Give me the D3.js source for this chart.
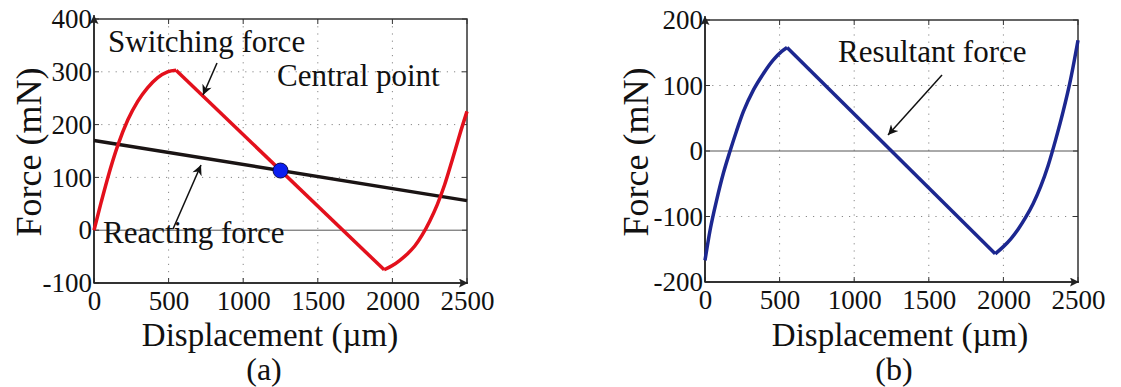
<!DOCTYPE html>
<html><head><meta charset="utf-8">
<script src="https://cdn.jsdelivr.net/npm/d3@7"></script>
<style>html,body{margin:0;padding:0;background:#fff}svg{display:block}text{font-family:"Liberation Serif","Times New Roman","DejaVu Serif",serif;fill:#111}</style>
</head><body>
<script>
// ---------- data ----------
const xTicks = [0, 500, 1000, 1500, 2000, 2500];
const yTicksA = [-100, 0, 100, 200, 300, 400];
const yTicksB = [-200, -100, 0, 100, 200];
const kinks = [550, 1945];

const switchDisp  = [0, 49, 93, 160, 227, 293, 360, 427, 493, 550, 1945, 2000, 2050, 2100, 2150, 2200, 2250, 2300, 2350, 2400, 2450, 2500];
const switchForce = [0, 54, 100, 161, 209, 244, 270, 289, 300, 303, -75, -67, -57, -45, -30, -9, 17, 48, 86, 132, 180, 225];

const reactDisp  = [0, 2500];
const reactForce = [170, 56];

const centralDisp = [1250];
const centralForce = [113];

const resDisp  = [0, 34, 78, 123, 168, 212, 257, 324, 391, 458, 514, 550, 1945, 2000, 2050, 2100, 2150, 2200, 2250, 2300, 2350, 2400, 2450, 2500];
const resForce = [-167, -121, -75, -34, 0, 31, 60, 93, 118, 139, 152, 158, -157, -146, -134, -119, -101, -80, -54, -22, 17, 60, 109, 169];

// ---------- setup ----------
const W = 1121, H = 387;
const svg = d3.select("body").append("svg").attr("width", W).attr("height", H)
  .attr("font-family", "Liberation Serif, Times New Roman, serif");
const defs = svg.append("defs");
defs.append("marker").attr("id","ah").attr("viewBox","0 0 10 10").attr("refX",10).attr("refY",5)
  .attr("markerWidth",12).attr("markerHeight",10).attr("markerUnits","userSpaceOnUse").attr("orient","auto")
  .append("path").attr("d","M0,0 L10,5 L0,10 L3,5 Z").attr("fill","#111");
defs.append("marker").attr("id","axah").attr("viewBox","0 0 10 10").attr("refX",10).attr("refY",5)
  .attr("markerWidth",12).attr("markerHeight",9).attr("markerUnits","userSpaceOnUse").attr("orient","auto")
  .append("path").attr("d","M0,0 L10,5 L0,10 L2,5 Z").attr("fill","#222");

function zip(xs, ys){ return xs.map((x,i)=>({x, y: ys[i]})); }
function segments(pts){
  const segs = [[]];
  pts.forEach((p,i)=>{
    segs[segs.length-1].push(p);
    if (kinks.includes(p.x) && i>0 && i<pts.length-1) segs.push([p]);
  });
  return segs;
}
const fmt = d => String(d);

function panel(cfg){
  const x = d3.scaleLinear().domain([0,2500]).range(cfg.xr);
  const y = d3.scaleLinear().domain(cfg.yd).range(cfg.yr);
  const g = svg.append("g");
  const [x0,x1] = cfg.xr, [y0,y1] = cfg.yr; // y0 bottom, y1 top

  // grid (dotted)
  g.selectAll(".gx").data(xTicks.slice(1,-1)).join("line")
    .attr("x1",d=>x(d)).attr("x2",d=>x(d)).attr("y1",y1).attr("y2",y0)
    .attr("stroke","#888").attr("stroke-width",1).attr("stroke-dasharray","1.2,6");
  g.selectAll(".gy").data(cfg.yt.slice(1,-1).filter(d=>d!==0)).join("line")
    .attr("x1",x0).attr("x2",x1).attr("y1",d=>y(d)).attr("y2",d=>y(d))
    .attr("stroke","#888").attr("stroke-width",1).attr("stroke-dasharray","1.2,6");
  // zero line
  g.append("line").attr("x1",x0).attr("x2",x1).attr("y1",y(0)).attr("y2",y(0))
    .attr("stroke","#555").attr("stroke-width",1);

  // frame
  g.append("rect").attr("x",x0).attr("y",y1).attr("width",x1-x0).attr("height",y0-y1)
    .attr("fill","none").attr("stroke","#333").attr("stroke-width",1.5);

  // inward ticks
  const tl = 5;
  xTicks.forEach(t=>{
    g.append("line").attr("x1",x(t)).attr("x2",x(t)).attr("y1",y0).attr("y2",y0-tl).attr("stroke","#333");
    g.append("line").attr("x1",x(t)).attr("x2",x(t)).attr("y1",y1).attr("y2",y1+tl).attr("stroke","#333");
  });
  cfg.yt.forEach(t=>{
    g.append("line").attr("x1",x0).attr("x2",x0+tl).attr("y1",y(t)).attr("y2",y(t)).attr("stroke","#333");
    g.append("line").attr("x1",x1).attr("x2",x1-tl).attr("y1",y(t)).attr("y2",y(t)).attr("stroke","#333");
  });

  // axis arrows
  g.append("line").attr("x1",x0).attr("x2",x0).attr("y1",y0).attr("y2",y1-4)
    .attr("stroke","#222").attr("stroke-width",1.5).attr("marker-end","url(#axah)");
  g.append("line").attr("x1",x0).attr("x2",x1+1).attr("y1",y0).attr("y2",y0)
    .attr("stroke","#222").attr("stroke-width",1.5).attr("marker-end","url(#axah)");

  // tick labels via axis generators (no lines)
  const ax = g.append("g").attr("transform",`translate(0,${y0})`)
    .call(d3.axisBottom(x).tickValues(xTicks).tickSize(0).tickPadding(0).tickFormat(fmt));
  ax.select(".domain").remove();
  ax.attr("font-family",null).attr("font-size",null);
  ax.selectAll("text").attr("font-size",27).attr("dy","1.0em").attr("fill","#111");
  const ay = g.append("g").attr("transform",`translate(${x0-2},0)`)
    .call(d3.axisLeft(y).tickValues(cfg.yt).tickSize(0).tickPadding(0).tickFormat(fmt));
  ay.select(".domain").remove();
  ay.attr("font-family",null).attr("font-size",null);
  ay.selectAll("text").attr("font-size",27).attr("dy","0.32em").attr("fill","#111");

  // titles
  g.append("text").attr("x",cfg.xtx).attr("y",346).attr("text-anchor","middle").attr("font-size",33)
    .text("Displacement (\u00b5m)");
  g.append("text").attr("x",cfg.xtx-6).attr("y",380).attr("text-anchor","middle").attr("font-size",32)
    .text(cfg.tag);
  g.append("text").attr("transform",`translate(${cfg.ytx},${cfg.yty}) rotate(-90)`).attr("text-anchor","middle")
    .attr("font-size",36).text("Force (mN)");

  return {g, x, y};
}

// ---------- panel (a) ----------
const A = panel({xr:[94,467], yr:[283,19], yd:[-100,400], yt:yTicksA, xtx:270, tag:"(a)", ytx:41, yty:152});
const lineA = d3.line().x(d=>A.x(d.x)).y(d=>A.y(d.y)).curve(d3.curveMonotoneX);
A.g.append("path").attr("d", d3.line().x(d=>A.x(d.x)).y(d=>A.y(d.y))(zip(reactDisp, reactForce)))
  .attr("fill","none").attr("stroke","#1a1414").attr("stroke-width",3.5);
segments(zip(switchDisp, switchForce)).forEach(s=>{
  A.g.append("path").attr("d", lineA(s)).attr("fill","none").attr("stroke","#e3101c")
    .attr("stroke-width",3.5).attr("stroke-linejoin","round");
});
A.g.selectAll(".cp").data(zip(centralDisp, centralForce)).join("circle")
  .attr("cx",d=>A.x(d.x)).attr("cy",d=>A.y(d.y)).attr("r",7.5)
  .attr("fill","#0a1ef0").attr("stroke","#0a0a50").attr("stroke-width",1);

A.g.append("text").attr("x",108).attr("y",52).attr("font-size",31).text("Switching force");
A.g.append("text").attr("x",277).attr("y",86).attr("font-size",31).text("Central point");
A.g.append("text").attr("x",103).attr("y",243).attr("font-size",31).text("Reacting force");
A.g.append("line").attr("x1",217).attr("y1",63).attr("x2",203).attr("y2",95)
  .attr("stroke","#111").attr("stroke-width",1.5).attr("marker-end","url(#ah)");
A.g.append("line").attr("x1",173).attr("y1",229).attr("x2",201).attr("y2",165)
  .attr("stroke","#111").attr("stroke-width",1.5).attr("marker-end","url(#ah)");

// ---------- panel (b) ----------
const B = panel({xr:[705,1078], yr:[282,20], yd:[-200,200], yt:yTicksB, xtx:900, tag:"(b)", ytx:648, yty:152});
const lineB = d3.line().x(d=>B.x(d.x)).y(d=>B.y(d.y)).curve(d3.curveMonotoneX);
segments(zip(resDisp, resForce)).forEach(s=>{
  B.g.append("path").attr("d", lineB(s)).attr("fill","none").attr("stroke","#1c2790")
    .attr("stroke-width",3.5).attr("stroke-linejoin","round");
});
B.g.append("text").attr("x",838).attr("y",62).attr("font-size",31).text("Resultant force");
B.g.append("line").attr("x1",942).attr("y1",75).attr("x2",888).attr("y2",135)
  .attr("stroke","#111").attr("stroke-width",1.5).attr("marker-end","url(#ah)");
</script>
</body></html>
